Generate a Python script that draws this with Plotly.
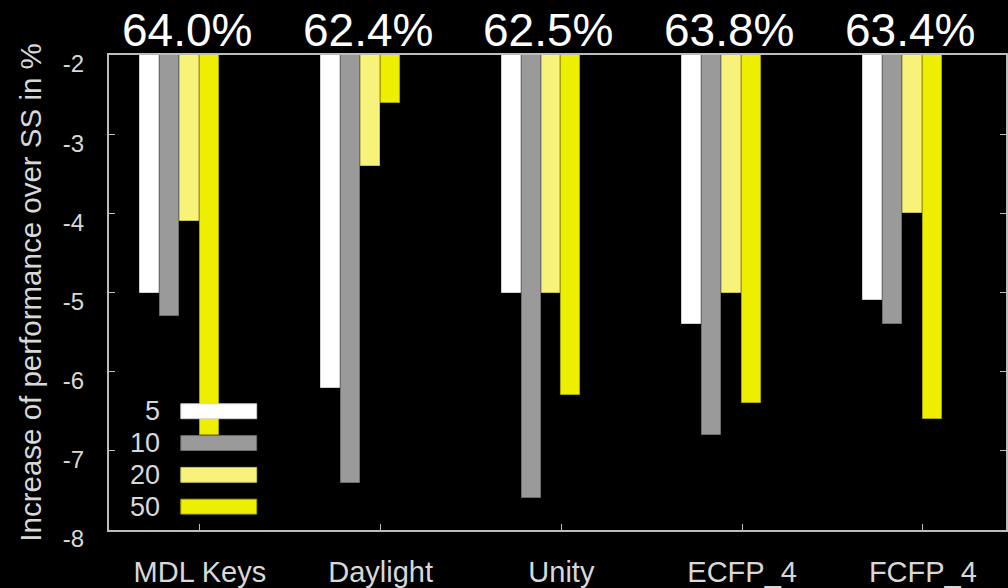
import plotly.graph_objects as go

# Fingerprint types and the relative performance change for each bin size
categories = ["MDL Keys", "Daylight", "Unity", "ECFP_4", "FCFP_4"]
series_names = ["5", "10", "20", "50"]
values_5 = [-5.0, -6.2, -5.0, -5.4, -5.1]
values_10 = [-5.3, -7.4, -7.6, -6.8, -5.4]
values_20 = [-4.1, -3.4, -5.0, -5.0, -4.0]
values_50 = [-6.8, -2.6, -6.3, -6.4, -6.6]
top_labels = ["64.0%", "62.4%", "62.5%", "63.8%", "63.4%"]
y_ticks = [-2, -3, -4, -5, -6, -7, -8]
y_tick_text = ["-2", "-3", "-4", "-5", "-6", "-7", "-8"]

series_values = [values_5, values_10, values_20, values_50]
fill_colors = ["#ffffff", "#9a9a9a", "#f6f27a", "#eeee00"]
edge_colors = ["#d0d0d0", "#6e6e6e", "#c9c25a", "#a8a400"]
bar_offsets = [-0.33, -0.22, -0.11, 0.0]
bar_width = 0.105

FONT = "Liberation Sans, Arial, sans-serif"
W, H = 1008, 588
M_L, M_R, M_T, M_B = 109, 0, 55, 55
plot_w = W - M_L - M_R
plot_h = H - M_T - M_B

fig = go.Figure()
for name, vals, fc, ec, off in zip(series_names, series_values, fill_colors, edge_colors, bar_offsets):
    fig.add_trace(go.Bar(
        x=categories, y=vals, name=name,
        marker=dict(color=fc, line=dict(color=ec, width=1)),
        offset=off, width=bar_width, showlegend=False,
    ))

# Percentage labels above each group
for cat, txt in zip(categories, top_labels):
    fig.add_annotation(
        x=cat, xref="x", y=(H - M_B - 30) / plot_h, yref="paper",
        text=txt, showarrow=False, xshift=-13,
        font=dict(family=FONT, size=46, color="white"),
        xanchor="center", yanchor="middle",
    )

# Y axis title
fig.add_annotation(
    x=(30 - M_L) / plot_w, xref="paper", y=0.5, yref="paper",
    text="Increase of performance over SS in %", textangle=-90,
    showarrow=False, font=dict(family=FONT, size=29.5, color="#d8d8d8"),
    xanchor="center", yanchor="middle",
)

# Legend drawn as wide swatches inside the plot, bottom-left
row_centers = [413.5, 445.5, 477.5, 509.5]
sw_x0, sw_x1, sw_h = 181, 257, 15
for name, fc, ec, yc in zip(series_names, fill_colors, edge_colors, row_centers):
    fig.add_shape(
        type="rect", xref="paper", yref="paper",
        x0=(sw_x0 - M_L) / plot_w, x1=(sw_x1 - M_L) / plot_w,
        y0=(H - M_B - (yc + sw_h / 2)) / plot_h, y1=(H - M_B - (yc - sw_h / 2)) / plot_h,
        fillcolor=fc, line=dict(color=ec, width=1), layer="above",
    )
    fig.add_annotation(
        x=(162 - M_L) / plot_w, xref="paper",
        y=(H - M_B - yc) / plot_h, yref="paper",
        text=name, showarrow=False, xanchor="right", yanchor="middle",
        font=dict(family=FONT, size=27, color="#d8d8d8"),
    )

fig.update_layout(
    width=W, height=H,
    margin=dict(l=M_L, r=M_R, t=M_T, b=M_B, pad=0),
    paper_bgcolor="black", plot_bgcolor="black",
    barmode="overlay", bargap=0,
    font=dict(family=FONT, color="#d8d8d8"),
    showlegend=False,
)
fig.update_xaxes(
    type="category", range=[-0.503, 4.46],
    showgrid=False, zeroline=False,
    showline=True, linecolor="#bdbdbd", linewidth=2, mirror=True,
    ticks="inside", ticklen=6, tickcolor="#bdbdbd", tickwidth=1,
    tickfont=dict(family=FONT, size=29, color="#d8d8d8"),
    ticklabelstandoff=15,
)
fig.update_yaxes(
    range=[-8, -2], tickvals=y_ticks, ticktext=y_tick_text,
    showgrid=False, zeroline=False,
    showline=True, linecolor="#bdbdbd", linewidth=2, mirror="ticks",
    ticks="inside", ticklen=6, tickcolor="#bdbdbd", tickwidth=1,
    tickfont=dict(family=FONT, size=24, color="#d8d8d8"),
    ticklabelstandoff=18, ticklabelshift=9,
)

fig.write_html("out.html")
